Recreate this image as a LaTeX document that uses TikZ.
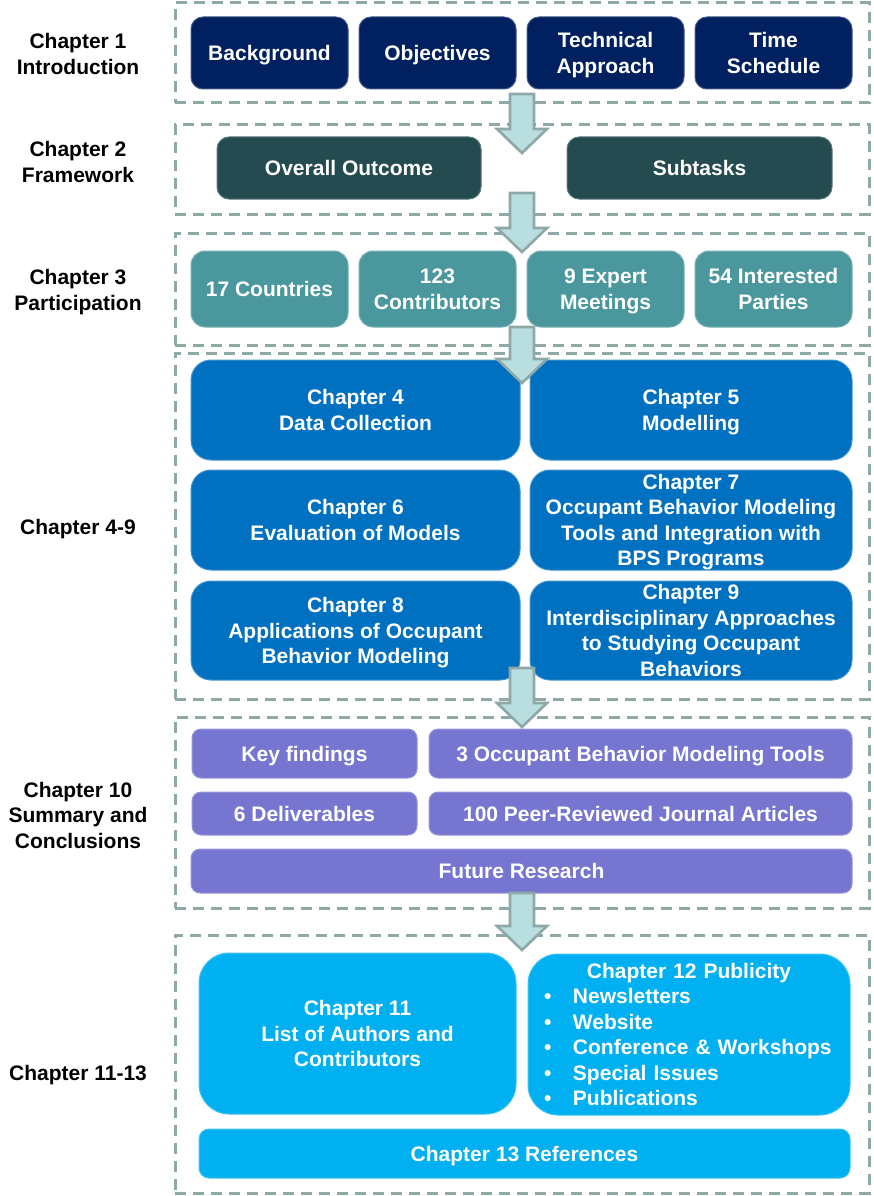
\documentclass[tikz,border=0pt]{standalone}
\usepackage{fontspec}
\setmainfont{Liberation Sans}
\usetikzlibrary{calc}

\definecolor{navy}{RGB}{0,32,96}
\definecolor{darkteal}{RGB}{36,75,79}
\definecolor{teal}{RGB}{74,152,158}
\definecolor{midblue}{RGB}{0,112,192}
\definecolor{lavender}{RGB}{118,117,207}
\definecolor{sky}{RGB}{0,176,240}
\definecolor{grpline}{RGB}{143,168,168}
\definecolor{arrfill}{RGB}{184,222,224}
\definecolor{arrline}{RGB}{142,168,168}

% fat block arrow from a start point (top of shaft) down to a tip point
\newcommand\flowarrow[2]{%
  \path[flowarr] let \p1=(#1), \p2=(#2) in
    (\x1-12pt,\y1) -- (\x1+12pt,\y1) -- (\x1+12pt,\y2+24pt) -- (\x1+25pt,\y2+24pt)
    -- (\x2,\y2) -- (\x1-25pt,\y2+24pt) -- (\x1-12pt,\y2+24pt) -- cycle;}

\tikzset{
  grp/.style={draw=grpline, line width=3pt, dash pattern=on 11pt off 7pt,
    minimum width=694pt, inner sep=0pt},
  lab/.style={align=center, text=black, inner sep=0pt, text depth=0pt},
  blk/.style={text=white, align=center, inner sep=0pt, line width=1pt, text depth=0pt},
  navybox/.style={blk, fill=navy, draw=navy!75!white, rounded corners=12pt,
    minimum width=157pt, minimum height=72pt},
  tealdark/.style={blk, fill=darkteal, draw=darkteal!75!white, rounded corners=12pt,
    minimum height=62pt},
  tealbox/.style={blk, fill=teal, draw=teal!75!white, rounded corners=14pt,
    minimum width=157pt, minimum height=76pt},
  bluebox/.style={blk, fill=midblue, draw=midblue!75!white, rounded corners=20pt},
  purplebox/.style={blk, fill=lavender, draw=lavender!75!white, rounded corners=9pt},
  skybox/.style={blk, fill=sky, draw=sky!75!white},
  flowarr/.style={fill=arrfill, draw=arrline, line width=2.6pt, line join=miter},
}

\begin{document}
\begin{tikzpicture}[x=1pt, y=-1pt, font=\fontsize{21}{25.5}\selectfont\bfseries]
\useasboundingbox (0,0) rectangle (874,1196);

% chapter labels
\node[lab] (l1) at (78,54)   {Chapter 1\\Introduction};
\node[lab] (l2) at (78,162)  {Chapter 2\\Framework};
\node[lab] (l3) at (78,290)  {Chapter 3\\Participation};
\node[lab] (l4) at (78,527)  {Chapter 4-9};
\node[lab] (l5) at (78,815)  {Chapter 10\\Summary and\\Conclusions};
\node[lab] (l6) at (78,1073) {Chapter 11-13};

% dashed group frames
\node[grp, minimum height=100pt] (g1) at (522,53)     {};
\node[grp, minimum height=89pt]  (g2) at (522,169.5)  {};
\node[grp, minimum height=112pt] (g3) at (522,289)    {};
\node[grp, minimum height=346pt] (g4) at (522,526)    {};
\node[grp, minimum height=191pt] (g5) at (522,812.5)  {};
\node[grp, minimum height=258pt] (g6) at (522,1064)   {};

% chapter 1
\node[navybox] (bg)  at (269.5,53) {Background};
\node[navybox] (obj) at (437.5,53) {Objectives};
\node[navybox] (tec) at (605.5,53) {Technical\\Approach};
\node[navybox] (tim) at (773.5,53) {Time\\Schedule};

% chapter 2
\node[tealdark, minimum width=264pt] (ovr) at (349,168)   {Overall Outcome};
\node[tealdark, minimum width=265pt] (sub) at (699.5,168) {Subtasks};

% chapter 3
\node[tealbox] (cty) at (269.5,289) {17 Countries};
\node[tealbox] (con) at (437.5,289) {123\\Contributors};
\node[tealbox] (exp) at (605.5,289) {9 Expert\\Meetings};
\node[tealbox] (par) at (773.5,289) {54 Interested\\Parties};

% chapters 4-9
\node[bluebox, minimum width=329pt, minimum height=100pt] (c4) at (355.5,410) {Chapter 4\\Data Collection};
\node[bluebox, minimum width=322pt, minimum height=100pt] (c5) at (691,410)   {Chapter 5\\Modelling};
\node[bluebox, minimum width=329pt, minimum height=100pt] (c6) at (355.5,520) {Chapter 6\\Evaluation of Models};
\node[bluebox, minimum width=322pt, minimum height=100pt] (c7) at (691,520)   {Chapter 7\\Occupant Behavior Modeling\\Tools and Integration with\\BPS Programs};
\node[bluebox, minimum width=329pt, minimum height=99pt] (c8) at (355.5,630.5) {Chapter 8\\Applications of Occupant\\Behavior Modeling};
\node[bluebox, minimum width=322pt, minimum height=99pt] (c9) at (691,630.5)   {Chapter 9\\Interdisciplinary Approaches\\to Studying Occupant\\Behaviors};

% chapter 10
\node[purplebox, minimum width=225pt, minimum height=49pt] (key) at (304.5,753.5) {Key findings};
\node[purplebox, minimum width=423pt, minimum height=49pt] (tls) at (640.5,753.5) {3 Occupant Behavior Modeling Tools};
\node[purplebox, minimum width=225pt, minimum height=43pt] (dlv) at (304.5,813.5) {6 Deliverables};
\node[purplebox, minimum width=423pt, minimum height=43pt] (art) at (640.5,813.5) {100 Peer-Reviewed Journal Articles};
\node[purplebox, minimum width=661pt, minimum height=44pt] (fut) at (521.5,871)   {Future Research};

% chapters 11-13
\node[skybox, rounded corners=30pt, minimum width=317pt, minimum height=161pt] (c11) at (357.5,1033.5)
  {Chapter 11\\List of Authors and\\Contributors};
\node[skybox, rounded corners=30pt, minimum width=322pt, minimum height=161pt,
      align=left, text width=290pt, text depth=] (c12) at (689,1034.5)
  {\makebox[290pt][c]{Chapter 12 Publicity}\\
   \makebox[29pt][l]{\textbullet}Newsletters\\
   \makebox[29pt][l]{\textbullet}Website\\
   \makebox[29pt][l]{\textbullet}Conference \& Workshops\\
   \makebox[29pt][l]{\textbullet}Special Issues\\
   \makebox[29pt][l]{\textbullet}Publications};
\node[skybox, rounded corners=10pt, minimum width=651pt, minimum height=49pt] (c13) at (524.5,1153.5)
  {Chapter 13 References};

% flow arrows between the chapter groups
\coordinate (a1s) at (522,94);  \coordinate (a1t) at (522,153);
\coordinate (a2s) at (522,193); \coordinate (a2t) at (522,252);
\coordinate (a3s) at (522,327); \coordinate (a3t) at (522,383);
\coordinate (a4s) at (522,668); \coordinate (a4t) at (522,727);
\coordinate (a5s) at (522,893); \coordinate (a5t) at (522,950);
\flowarrow{a1s}{a1t}
\flowarrow{a2s}{a2t}
\flowarrow{a3s}{a3t}
\flowarrow{a4s}{a4t}
\flowarrow{a5s}{a5t}
\end{tikzpicture}
\end{document}
